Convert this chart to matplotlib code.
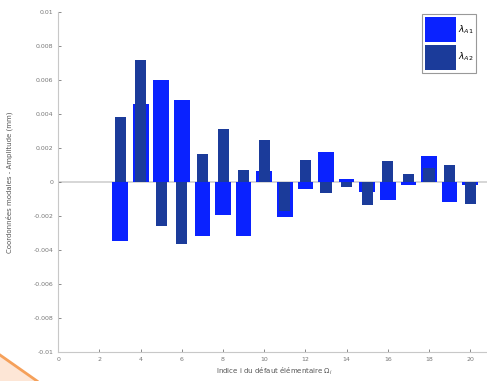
import numpy as np
import matplotlib.pyplot as plt
from matplotlib.patches import Polygon
from matplotlib.lines import Line2D

# data
indices = np.arange(1, 21)
lambda_a1 = [0, 0, -0.00345, 0.00457, 0.0060, 0.00482, -0.00319, -0.00197, -0.00315, 0.00065,
             -0.00206, -0.00043, 0.00177, 0.0002, -0.0006, -0.00108, -0.0002, 0.00153, -0.00118, -0.0002]
lambda_a2 = [0, 0, 0.00384, 0.00718, -0.0026, -0.00364, 0.00162, 0.00309, 0.00073, 0.00246,
             -0.0017, 0.00128, -0.00065, -0.0003, -0.00138, 0.00122, 0.0005, 0.0008, 0.00098, -0.00128]
x_ticks = np.arange(0, 21, 2)
y_ticks = np.arange(-0.01, 0.0101, 0.002)
y_ticklabels = ['-0.01', '-0.008', '-0.006', '-0.004', '-0.002', '0',
                '0.002', '0.004', '0.006', '0.008', '0.01']

W, H = 487, 381
x0, x1, y_top, y_bot = 58.3, 490.8, 12, 352
fig = plt.figure(figsize=(W / 100, H / 100), dpi=100)
ax = fig.add_axes([x0 / W, 1 - y_bot / H, (x1 - x0) / W, (y_bot - y_top) / H])

bright = '#0a22ff'
dark = '#1b3b9a'
ax.axhline(0, color='#cfcfcf', lw=1.2, zorder=1)
ax.bar(indices, lambda_a1, width=0.76, color=bright, zorder=2, label=r'$\lambda_{A1}$')
ax.bar(indices, lambda_a2, width=0.54, color=dark, zorder=3, label=r'$\lambda_{A2}$')

ax.set_xlim(0, 21)
ax.set_ylim(-0.01, 0.01)
ax.set_xticks(x_ticks)
ax.set_yticks(y_ticks)
ax.set_yticklabels(y_ticklabels)
ax.tick_params(labelsize=4.5, colors='#777777', direction='in', length=2.5, width=0.6)
for s in ['top', 'right']:
    ax.spines[s].set_visible(False)
for s in ['left', 'bottom']:
    ax.spines[s].set_color('#c8c8c8')
    ax.spines[s].set_linewidth(0.8)

ax.set_ylabel('Coordonnées modales - Amplitude (mm)', fontsize=5, color='#555555')
ax.yaxis.set_label_coords((13 - x0) / (x1 - x0), 0.5)
ax.set_xlabel(r'Indice i du défaut élémentaire $\Omega_i$', fontsize=5, color='#555555', labelpad=3)

leg = ax.legend(loc='upper left',
                bbox_to_anchor=((421.7 - x0) / (x1 - x0), 1.0 - 2 / (y_bot - y_top)),
                fontsize=6.5, handlelength=3.4, handleheight=3.9, handletextpad=0.25,
                borderpad=0.35, labelspacing=0.3, borderaxespad=0,
                fancybox=False, framealpha=1)
leg.get_frame().set_edgecolor('#999999')
leg.get_frame().set_linewidth(0.8)

# orange corner stroke from the screenshot
tri = Polygon([(0, 0), (0, 1 - 355 / H), (37 / W, 0)], closed=True,
              transform=fig.transFigure, facecolor='#fde6d6', edgecolor='none')
fig.patches.append(tri)
fig.lines.append(Line2D([0, 37 / W], [1 - 355 / H, 0], transform=fig.transFigure,
                        color='#f5a05a', lw=2))

fig.savefig('out.png', dpi=100)
